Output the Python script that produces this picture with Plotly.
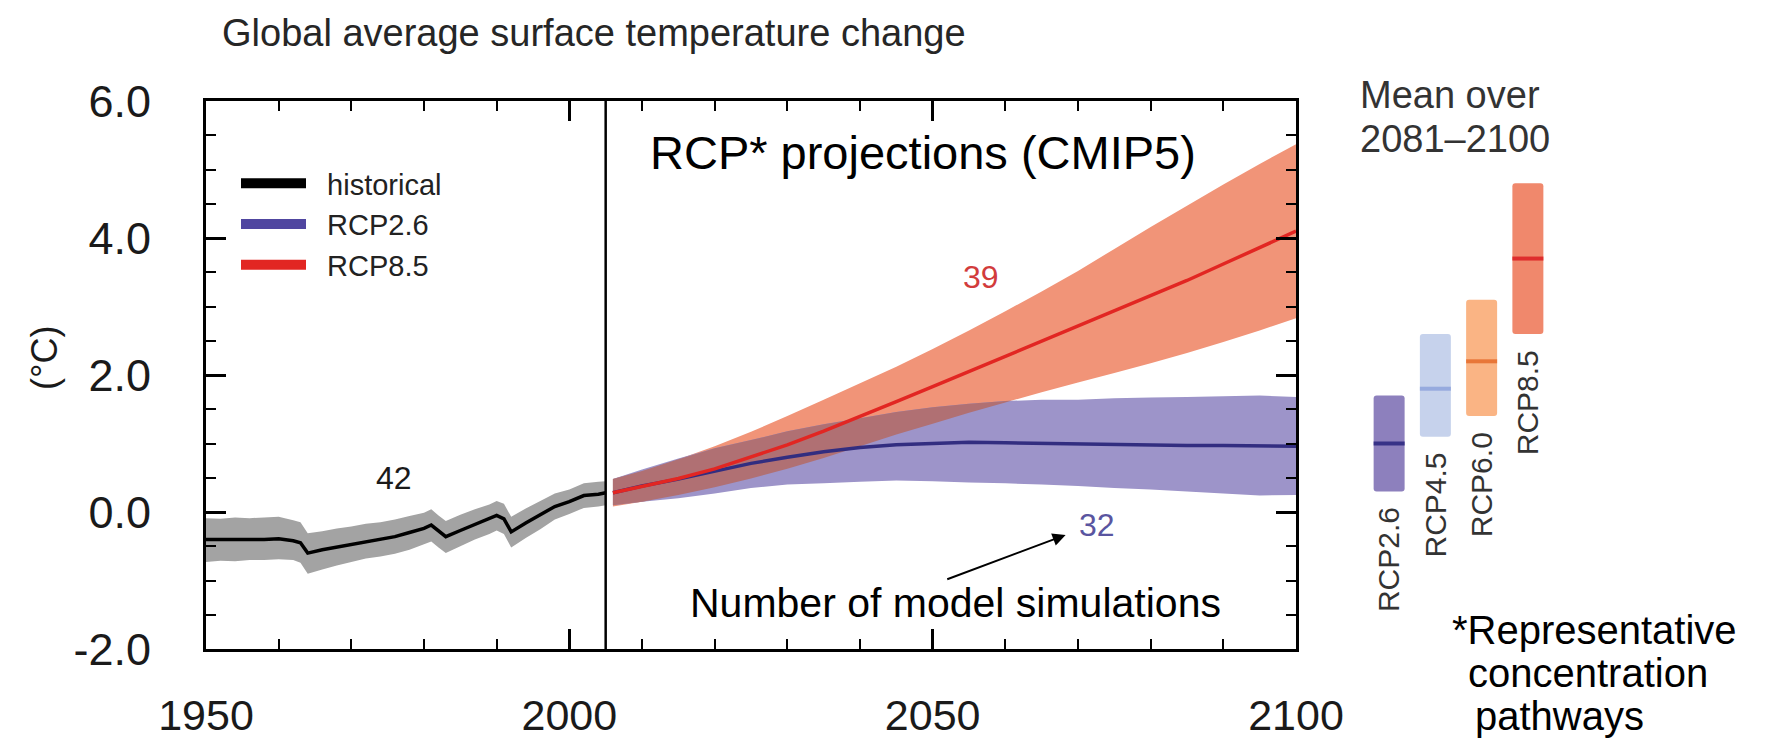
import plotly.graph_objects as go

# ---------------------------------------------------------------------------
# Data
# ---------------------------------------------------------------------------
# Historical multi-model mean and 5-95 % range (deg C, relative to 1986-2005)
hist_years = [1950, 1952, 1954, 1956, 1958, 1960, 1962, 1963, 1964, 1966, 1968,
              1970, 1972, 1974, 1976, 1978, 1980, 1981, 1982, 1983, 1985, 1987,
              1989, 1990, 1991, 1992, 1994, 1996, 1998, 2000, 2002, 2004, 2005]
hist_mean = [-0.40, -0.40, -0.41, -0.40, -0.40, -0.39, -0.42, -0.45, -0.60, -0.55, -0.51,
             -0.47, -0.43, -0.40, -0.36, -0.30, -0.24, -0.19, -0.28, -0.36, -0.27, -0.18,
             -0.10, -0.05, -0.10, -0.29, -0.16, -0.04, 0.08, 0.15, 0.24, 0.26, 0.28]
hist_upper = [-0.09, -0.10, -0.08, -0.09, -0.08, -0.07, -0.12, -0.15, -0.31, -0.28, -0.24,
              -0.21, -0.17, -0.15, -0.11, -0.06, -0.01, 0.04, -0.05, -0.13, -0.04, 0.04,
              0.11, 0.16, 0.12, -0.07, 0.05, 0.16, 0.27, 0.33, 0.42, 0.44, 0.45]
hist_lower = [-0.73, -0.71, -0.72, -0.70, -0.70, -0.69, -0.70, -0.74, -0.90, -0.84, -0.78,
              -0.73, -0.68, -0.65, -0.61, -0.55, -0.47, -0.43, -0.52, -0.60, -0.50, -0.40,
              -0.32, -0.27, -0.32, -0.52, -0.38, -0.25, -0.11, -0.03, 0.06, 0.08, 0.10]

# RCP projections 2006-2100
proj_years = [2006, 2010, 2015, 2020, 2025, 2030, 2035, 2040, 2045, 2050,
              2055, 2060, 2065, 2070, 2075, 2080, 2085, 2090, 2095, 2100]
rcp85_mean = [0.28, 0.37, 0.49, 0.63, 0.80, 0.98, 1.18, 1.39, 1.61, 1.83,
              2.05, 2.27, 2.49, 2.71, 2.93, 3.15, 3.38, 3.62, 3.86, 4.10]
rcp85_upper = [0.48, 0.60, 0.77, 0.96, 1.17, 1.40, 1.64, 1.88, 2.12, 2.38,
               2.65, 2.93, 3.22, 3.52, 3.84, 4.16, 4.47, 4.78, 5.08, 5.37]
rcp85_lower = [0.08, 0.15, 0.25, 0.36, 0.49, 0.63, 0.79, 0.96, 1.13, 1.29,
               1.45, 1.60, 1.75, 1.89, 2.03, 2.17, 2.32, 2.48, 2.65, 2.83]
rcp26_mean = [0.28, 0.38, 0.48, 0.60, 0.71, 0.80, 0.88, 0.94, 0.98, 1.00,
              1.02, 1.01, 1.00, 0.99, 0.98, 0.98, 0.97, 0.97, 0.97, 0.96]
rcp26_upper = [0.48, 0.62, 0.78, 0.93, 1.05, 1.18, 1.28, 1.37, 1.46, 1.53,
               1.58, 1.62, 1.64, 1.64, 1.66, 1.67, 1.68, 1.69, 1.70, 1.68]
rcp26_lower = [0.10, 0.15, 0.20, 0.27, 0.35, 0.40, 0.42, 0.44, 0.46, 0.45,
               0.43, 0.42, 0.40, 0.38, 0.35, 0.33, 0.30, 0.27, 0.24, 0.25]

# Number of model simulations behind each series
n_hist, n_rcp85, n_rcp26 = 42, 39, 32

# Mean over 2081-2100 (likely ranges)
scenarios = ["RCP2.6", "RCP4.5", "RCP6.0", "RCP8.5"]
period_mean = [1.0, 1.8, 2.2, 3.7]
period_low = [0.3, 1.1, 1.4, 2.6]
period_high = [1.7, 2.6, 3.1, 4.8]

projection_start = 2005

x_tickvals = [1950, 2000, 2050, 2100]
y_tickvals = [-2, 0, 2, 4, 6]
y_ticktext = ["-2.0", "0.0", "2.0", "4.0", "6.0"]

# ---------------------------------------------------------------------------
# Styling
# ---------------------------------------------------------------------------
FONT = "Liberation Sans, Arial, Helvetica, sans-serif"

C_HIST_BAND = "rgb(163,163,163)"
C_85_BAND = "rgb(241,148,120)"
C_26_BAND = "rgb(157,148,201)"
C_OVERLAP = "rgb(176,112,115)"
C_85_LINE = "rgb(226,38,34)"
C_26_LINE = "rgb(50,45,128)"

BAR_FILL = ["rgb(141,128,189)", "rgb(198,210,236)", "rgb(250,180,132)", "rgb(240,136,108)"]
BAR_MEAN = ["rgb(55,50,135)", "rgb(150,170,222)", "rgb(232,118,56)", "rgb(222,45,45)"]
BAR_WIDTH = 0.67

W, H = 1768, 742
ML, MR, MT, MB = 206, 0, 101, 93
PW, PH = W - ML - MR, H - MT - MB


def px(xp):
    """Figure pixel column -> paper x."""
    return (xp - ML) / PW


def py(yp):
    """Figure pixel row -> paper y."""
    return (H - MB - yp) / PH


def band(xs, hi, lo, color, name):
    return go.Scatter(x=list(xs) + list(xs)[::-1], y=list(hi) + list(lo)[::-1],
                      fill="toself", fillcolor=color, mode="none",
                      hoverinfo="skip", showlegend=False, name=name)


def label(text, x, y, size, color="black", xanchor="center", **kw):
    fig.add_annotation(x=px(x), y=py(y), xref="paper", yref="paper", text=text,
                       showarrow=False, xanchor=xanchor, yanchor="middle",
                       font=dict(family=FONT, size=size, color=color), **kw)


# Region where the two projected ranges overlap
ov_x, ov_hi, ov_lo = [], [], []
for i, yr in enumerate(proj_years):
    hi = min(rcp85_upper[i], rcp26_upper[i])
    lo = max(rcp85_lower[i], rcp26_lower[i])
    if hi >= lo:
        ov_x.append(yr)
        ov_hi.append(hi)
        ov_lo.append(lo)
    else:
        g0 = ov_hi[-1] - ov_lo[-1]
        g1 = hi - lo
        t = g0 / (g0 - g1) if g0 != g1 else 0.0
        xc = ov_x[-1] + t * (yr - ov_x[-1])
        yc = ov_lo[-1] + t * (lo - ov_lo[-1])
        ov_x.append(xc)
        ov_hi.append(yc)
        ov_lo.append(yc)
        break

fig = go.Figure()

# Uncertainty ranges
fig.add_trace(band(proj_years, rcp85_upper, rcp85_lower, C_85_BAND, "RCP8.5 range"))
fig.add_trace(band(proj_years, rcp26_upper, rcp26_lower, C_26_BAND, "RCP2.6 range"))
fig.add_trace(band(ov_x, ov_hi, ov_lo, C_OVERLAP, "overlap"))
fig.add_trace(band(hist_years, hist_upper, hist_lower, C_HIST_BAND, "historical range"))

# Multi-model means
fig.add_trace(go.Scatter(x=proj_years, y=rcp26_mean, mode="lines",
                         line=dict(color=C_26_LINE, width=3.5), showlegend=False))
fig.add_trace(go.Scatter(x=proj_years, y=rcp85_mean, mode="lines",
                         line=dict(color=C_85_LINE, width=3.5), showlegend=False))
fig.add_trace(go.Scatter(x=hist_years, y=hist_mean, mode="lines",
                         line=dict(color="black", width=3.5), showlegend=False))

# Legend keys
for name, col, grp in [("historical", "black", "a"), ("RCP2.6", "rgb(80,70,160)", "b"),
                       ("RCP8.5", "rgb(226,38,34)", "c")]:
    fig.add_trace(go.Scatter(x=[None], y=[None], mode="lines", legendgroup=grp,
                             name="\u00a0\u00a0" + name,
                             line=dict(color=col, width=10)))

# Right-hand panel: 2081-2100 means
fig.add_trace(go.Bar(x=list(range(len(scenarios))),
                     y=[h - l for h, l in zip(period_high, period_low)],
                     base=period_low, width=BAR_WIDTH,
                     marker=dict(color=BAR_FILL, line=dict(width=0), cornerradius=3),
                     xaxis="x2", yaxis="y", showlegend=False, hoverinfo="skip"))
for i, m in enumerate(period_mean):
    fig.add_trace(go.Scatter(x=[i - BAR_WIDTH / 2, i + BAR_WIDTH / 2], y=[m, m],
                             mode="lines", line=dict(color=BAR_MEAN[i], width=4),
                             xaxis="x2", yaxis="y", showlegend=False, hoverinfo="skip"))
    fig.add_annotation(x=i, y=period_low[i], xref="x2", yref="y", text=scenarios[i],
                       textangle=-90, showarrow=False, xanchor="center", yanchor="top",
                       yshift=-14, font=dict(family=FONT, size=30, color="#333333"))

# Start of projections
fig.add_vline(x=projection_start, line=dict(color="black", width=2.5), layer="above")

axis_common = dict(showline=True, linecolor="black", linewidth=3, mirror="ticks",
                   ticks="inside", ticklen=20, tickwidth=3, tickcolor="black",
                   showgrid=False, zeroline=False, automargin=False)

fig.update_layout(
    width=W, height=H,
    margin=dict(l=ML, r=MR, t=MT, b=MB, autoexpand=False),
    paper_bgcolor="white", plot_bgcolor="white",
    xaxis=dict(range=[1950, 2100], domain=[0, px(1296)], tickvals=x_tickvals,
               minor=dict(dtick=10, ticklen=10, tickwidth=2, tickcolor="black", ticks="inside"),
               ticklabelstandoff=26, tickfont=dict(family=FONT, size=43, color="#1a1a1a"),
               **axis_common),
    yaxis=dict(range=[-2, 6], domain=[0, 1], tickvals=y_tickvals, ticktext=y_ticktext,
               minor=dict(dtick=0.5, ticklen=10, tickwidth=2, tickcolor="black", ticks="inside"),
               ticklabelstandoff=43, tickfont=dict(family=FONT, size=45, color="#1a1a1a"),
               **axis_common),
    xaxis2=dict(range=[-0.5, 3.5], domain=[px(1366), px(1551)], anchor="y",
                visible=False),
    legend=dict(x=px(236), y=py(158), xanchor="left", yanchor="top",
                bgcolor="rgba(0,0,0,0)", itemwidth=65, tracegroupgap=0,
                font=dict(family=FONT, size=29, color="#222222")),
    showlegend=True,
)

# Titles and labels
label("Global average surface temperature change", 594, 33, 38, color="#262626")
label("(°C)", 44, 358, 36, color="#1a1a1a", textangle=-90)
label("RCP* projections (CMIP5)", 648, 152, 47, xanchor="left")
label("Number of model simulations", 955, 603, 41)

# Model counts
fig.add_annotation(x=1975.9, y=0.50, text=str(n_hist), showarrow=False,
                   font=dict(family=FONT, size=32, color="#1a1a1a"))
fig.add_annotation(x=2056.7, y=3.43, text=str(n_rcp85), showarrow=False,
                   font=dict(family=FONT, size=32, color="rgb(210,60,60)"))
fig.add_annotation(x=2072.6, y=-0.19, text=str(n_rcp26), showarrow=False,
                   font=dict(family=FONT, size=32, color="rgb(90,85,160)"))
fig.add_annotation(x=2068.3, y=-0.335, ax=2051.8, ay=-0.99, axref="x", ayref="y",
                   text="", showarrow=True, arrowhead=2, arrowsize=1.3, arrowwidth=2,
                   arrowcolor="black")

# Right-hand panel headings and footnote
label("Mean over", 1358, 95, 38, color="#333333", xanchor="left")
label("2081\u20132100", 1358, 139, 38, color="#333333", xanchor="left")
label("*Representative", 1450, 630, 40, xanchor="left")
label("concentration", 1466, 673, 40, xanchor="left")
label("pathways", 1473, 716, 40, xanchor="left")

fig.write_html("out.html")
